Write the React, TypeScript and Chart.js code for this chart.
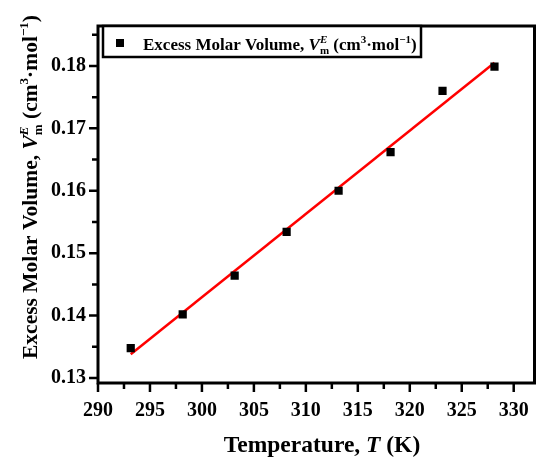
import React, { useEffect, useRef } from 'react';
import { Chart, registerables } from 'chart.js';

Chart.register(...registerables);

// ---- data ----
const temperatures = [293.15, 298.15, 303.15, 308.15, 313.15, 318.15, 323.15, 328.15];
const excessVolumes = [0.1348, 0.1402, 0.1464, 0.1534, 0.16, 0.1662, 0.176, 0.1799];
const fitTemperatures = [293.15, 328.15];
const fitVolumes = [0.1338, 0.1805];
const xTickValues = [290, 295, 300, 305, 310, 315, 320, 325, 330];
const xMinorValues = [292.5, 297.5, 302.5, 307.5, 312.5, 317.5, 322.5, 327.5];
const yTickValues = [0.13, 0.14, 0.15, 0.16, 0.17, 0.18];
const yMinorValues = [0.135, 0.145, 0.155, 0.165, 0.175, 0.185];
const xTitleText = ['Temperature, ', 'T', ' (K)'];
const volumeLabel = ['Excess Molar Volume, ', 'V', 'm', 'E', ' (cm', '3', '·mol', '−1', ')'];

const FONT = '"Liberation Serif", "Times New Roman", serif';

type Part = { t: string; italic?: boolean; size: number; dy?: number; stack?: boolean };

function volumeParts(base: number, small: number): Part[] {
  const L = volumeLabel;
  return [
    { t: L[0], size: base },
    { t: L[1], size: base, italic: true },
    { t: L[2], size: small, dy: small * 0.35 },
    { t: L[3], size: small, italic: true, dy: -base * 0.42, stack: true },
    { t: L[4], size: base },
    { t: L[5], size: small, dy: -base * 0.42 },
    { t: L[6], size: base },
    { t: L[7], size: small, dy: -base * 0.42 },
    { t: L[8], size: base },
  ];
}

function drawRich(ctx: CanvasRenderingContext2D, parts: Part[], x: number, y: number, align: 'left' | 'center') {
  const items: { p: Part; x: number }[] = [];
  let cx = 0;
  let prevStart = 0;
  let prevW = 0;
  for (const p of parts) {
    ctx.font = `${p.italic ? 'italic ' : ''}bold ${p.size}px ${FONT}`;
    const w = ctx.measureText(p.t).width;
    if (p.stack) {
      items.push({ p, x: prevStart });
      const nw = Math.max(prevW, w);
      cx = prevStart + nw;
      prevW = nw;
    } else {
      items.push({ p, x: cx });
      prevStart = cx;
      prevW = w;
      cx += w;
    }
  }
  const start = align === 'center' ? x - cx / 2 : x;
  ctx.textAlign = 'left';
  ctx.textBaseline = 'alphabetic';
  ctx.fillStyle = '#000';
  for (const it of items) {
    ctx.font = `${it.p.italic ? 'italic ' : ''}bold ${it.p.size}px ${FONT}`;
    ctx.fillText(it.p.t, start + it.x, y + (it.p.dy || 0));
  }
}

const framePlugin = {
  id: 'frameAndText',
  afterDraw(chart: any) {
    const ctx: CanvasRenderingContext2D = chart.ctx;
    const { left, right, top, bottom } = chart.chartArea;
    const xs = chart.scales.x;
    const ys = chart.scales.y;
    ctx.save();
    ctx.strokeStyle = '#000';
    ctx.lineWidth = 3;
    ctx.strokeRect(left, top, right - left, bottom - top);
    ctx.lineWidth = 2.5;
    ctx.beginPath();
    for (const v of xTickValues) {
      const px = xs.getPixelForValue(v);
      ctx.moveTo(px, bottom);
      ctx.lineTo(px, bottom + 9);
    }
    for (const v of xMinorValues) {
      const px = xs.getPixelForValue(v);
      ctx.moveTo(px, bottom);
      ctx.lineTo(px, bottom + 6);
    }
    for (const v of yTickValues) {
      const py = ys.getPixelForValue(v);
      ctx.moveTo(left, py);
      ctx.lineTo(left - 9, py);
    }
    for (const v of yMinorValues) {
      const py = ys.getPixelForValue(v);
      if (py < top) continue;
      ctx.moveTo(left, py);
      ctx.lineTo(left - 6, py);
    }
    ctx.stroke();

    // legend
    ctx.fillStyle = '#fff';
    ctx.fillRect(103, 27, 318, 30);
    ctx.lineWidth = 2.5;
    ctx.strokeRect(103, 26, 318, 31);
    ctx.fillStyle = '#000';
    ctx.fillRect(116, 39, 8, 8);
    drawRich(ctx, volumeParts(17, 11), 143, 50, 'left');

    // x title
    drawRich(
      ctx,
      [
        { t: xTitleText[0], size: 23.5 },
        { t: xTitleText[1], size: 23.5, italic: true },
        { t: xTitleText[2], size: 23.5 },
      ],
      322,
      452,
      'center'
    );

    // y title
    ctx.save();
    ctx.translate(37, 187);
    ctx.rotate(-Math.PI / 2);
    drawRich(ctx, volumeParts(21.5, 13), 0, 0, 'center');
    ctx.restore();
    ctx.restore();
  },
};

export default function App() {
  const ref = useRef<HTMLCanvasElement | null>(null);
  useEffect(() => {
    document.body.style.margin = '0';
    const canvas = ref.current;
    if (!canvas) return;
    const tickFont = { family: FONT, size: 20, weight: 'bold' as const };
    const chart = new Chart(canvas, {
      type: 'scatter',
      data: {
        datasets: [
          {
            label: 'Excess Molar Volume',
            data: temperatures.map((t, i) => ({ x: t, y: excessVolumes[i] })),
            pointStyle: 'rect',
            pointRadius: 5.8,
            backgroundColor: '#000',
            borderWidth: 0,
            showLine: false,
            order: 0,
          },
          {
            type: 'line',
            label: 'Linear fit',
            data: fitTemperatures.map((t, i) => ({ x: t, y: fitVolumes[i] })),
            borderColor: '#ff0000',
            borderWidth: 2.5,
            pointRadius: 0,
            fill: false,
            order: 1,
          } as any,
        ],
      },
      options: {
        animation: false,
        responsive: false,
        layout: { padding: { top: 26, right: 6, left: 0, bottom: 0 } },
        plugins: { legend: { display: false }, tooltip: { enabled: false } },
        scales: {
          x: {
            type: 'linear',
            min: 290,
            max: 332,
            grid: { display: false, drawTicks: false },
            border: { display: false },
            afterBuildTicks: (s: any) => {
              s.ticks = xTickValues.map((v) => ({ value: v }));
            },
            afterFit: (s: any) => {
              s.height = 75;
            },
            ticks: {
              font: tickFont,
              color: '#000',
              padding: 16,
              maxRotation: 0,
              autoSkip: false,
              callback: (v: any) => String(v),
            },
          },
          y: {
            type: 'linear',
            min: 0.1292,
            max: 0.1864,
            grid: { display: false, drawTicks: false },
            border: { display: false },
            afterBuildTicks: (s: any) => {
              s.ticks = yTickValues.map((v) => ({ value: v }));
            },
            afterFit: (s: any) => {
              s.width = 98;
            },
            ticks: {
              font: tickFont,
              color: '#000',
              padding: 12,
              autoSkip: false,
              callback: (v: any) => Number(v).toFixed(2),
            },
          },
        },
      },
      plugins: [framePlugin],
    });
    return () => chart.destroy();
  }, []);
  return (
    <div style={{ position: 'fixed', left: 0, top: 0, width: 536, height: 458, overflow: 'hidden', background: '#fff' }}>
      <canvas ref={ref} width={545} height={458} style={{ display: 'block', width: 545, height: 458 }} />
    </div>
  );
}
